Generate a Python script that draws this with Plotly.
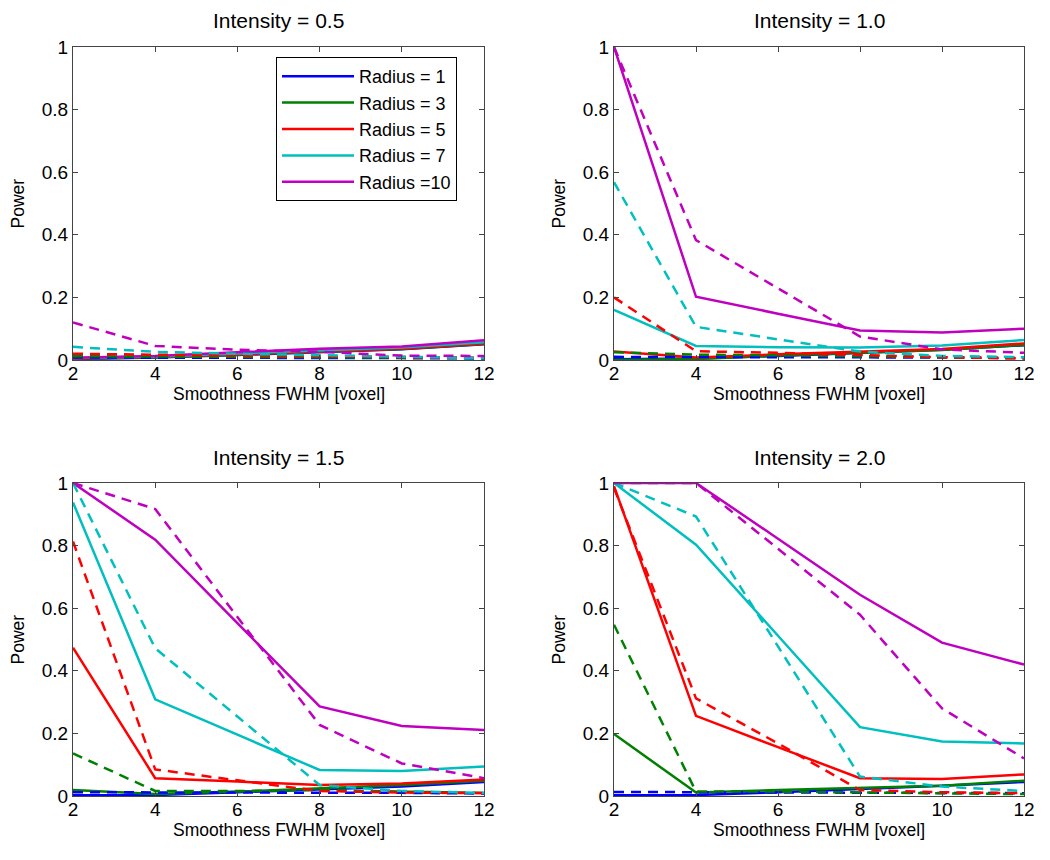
import plotly.graph_objects as go

x_fwhm = [2, 4, 6, 8, 10, 12]
radii_labels = ["Radius = 1", "Radius = 3", "Radius = 5", "Radius = 7", "Radius =10"]
colors = ["#0000ff", "#008000", "#ff0000", "#00bfbf", "#bf00bf"]
titles = ["Intensity = 0.5", "Intensity = 1.0", "Intensity = 1.5", "Intensity = 2.0"]

# Intensity 0.5
i05_solid = [
    [0.003, 0.008, 0.016, 0.026, 0.034, 0.050],
    [0.004, 0.009, 0.017, 0.027, 0.035, 0.051],
    [0.005, 0.010, 0.018, 0.028, 0.036, 0.053],
    [0.006, 0.011, 0.021, 0.031, 0.040, 0.057],
    [0.007, 0.013, 0.025, 0.036, 0.043, 0.063],
]
i05_dashed = [
    [0.008, 0.008, 0.008, 0.007, 0.006, 0.005],
    [0.012, 0.010, 0.010, 0.009, 0.008, 0.006],
    [0.020, 0.016, 0.014, 0.012, 0.009, 0.007],
    [0.042, 0.026, 0.020, 0.016, 0.010, 0.006],
    [0.120, 0.045, 0.033, 0.026, 0.014, 0.013],
]
# Intensity 1.0
i10_solid = [
    [0.002, 0.005, 0.013, 0.023, 0.033, 0.047],
    [0.000, 0.003, 0.014, 0.024, 0.032, 0.048],
    [0.027, 0.008, 0.018, 0.026, 0.035, 0.053],
    [0.160, 0.045, 0.041, 0.040, 0.046, 0.064],
    [1.000, 0.202, 0.148, 0.094, 0.088, 0.100],
]
i10_dashed = [
    [0.010, 0.010, 0.010, 0.009, 0.008, 0.006],
    [0.025, 0.017, 0.015, 0.012, 0.008, 0.006],
    [0.200, 0.028, 0.023, 0.016, 0.009, 0.005],
    [0.568, 0.106, 0.066, 0.027, 0.013, 0.009],
    [1.000, 0.383, 0.229, 0.075, 0.034, 0.023],
]
# Intensity 1.5
i15_solid = [
    [0.002, 0.003, 0.012, 0.020, 0.030, 0.045],
    [0.019, 0.006, 0.014, 0.025, 0.035, 0.049],
    [0.474, 0.057, 0.046, 0.035, 0.040, 0.053],
    [0.938, 0.309, 0.196, 0.083, 0.080, 0.094],
    [1.000, 0.819, 0.552, 0.286, 0.224, 0.211],
]
i15_dashed = [
    [0.012, 0.012, 0.012, 0.012, 0.010, 0.008],
    [0.136, 0.016, 0.016, 0.019, 0.014, 0.010],
    [0.813, 0.085, 0.050, 0.016, 0.011, 0.009],
    [1.000, 0.472, 0.254, 0.035, 0.016, 0.010],
    [1.000, 0.917, 0.572, 0.227, 0.104, 0.057],
]
# Intensity 2.0
i20_solid = [
    [0.002, 0.003, 0.012, 0.022, 0.033, 0.045],
    [0.198, 0.011, 0.019, 0.027, 0.033, 0.049],
    [0.990, 0.256, 0.156, 0.057, 0.054, 0.069],
    [1.000, 0.803, 0.512, 0.220, 0.174, 0.168],
    [1.000, 1.000, 0.822, 0.643, 0.490, 0.420],
]
i20_dashed = [
    [0.013, 0.012, 0.012, 0.011, 0.010, 0.009],
    [0.547, 0.014, 0.014, 0.011, 0.008, 0.006],
    [0.984, 0.312, 0.168, 0.019, 0.012, 0.009],
    [1.000, 0.893, 0.478, 0.062, 0.030, 0.016],
    [1.000, 1.000, 0.790, 0.579, 0.280, 0.120],
]

panels = [(i05_solid, i05_dashed), (i10_solid, i10_dashed),
          (i15_solid, i15_dashed), (i20_solid, i20_dashed)]

W, H = 1050, 860
OFF = 8  # page body margin offset
# panel boxes in page pixels (left, right, top, bottom)
boxes = [(73, 484, 47, 360), (614, 1024, 47, 360),
         (73, 484, 483, 796), (614, 1024, 483, 796)]


def px(v):
    return (v - OFF) / W


def py(v):
    return 1 - (v - OFF) / H


FONT = "Arial, Liberation Sans, Helvetica, sans-serif"
fig = go.Figure()

for p, (solid, dashed) in enumerate(panels):
    xa = "x" if p == 0 else f"x{p+1}"
    ya = "y" if p == 0 else f"y{p+1}"
    for r in range(5):
        fig.add_trace(go.Scatter(
            x=x_fwhm, y=solid[r], mode="lines", xaxis=xa, yaxis=ya,
            line=dict(color=colors[r], width=2.5),
            name=radii_labels[r], showlegend=(p == 0), legendgroup=f"r{r}"))
    for r in range(5):
        fig.add_trace(go.Scatter(
            x=x_fwhm, y=dashed[r], mode="lines", xaxis=xa, yaxis=ya,
            line=dict(color=colors[r], width=2.5, dash="10px,7px"),
            name=radii_labels[r], showlegend=False, legendgroup=f"r{r}"))

annotations = []
for p, (l, r, t, b) in enumerate(boxes):
    sfx = "" if p == 0 else str(p + 1)
    axis_common = dict(showline=True, linecolor="#444444", linewidth=1, mirror="ticks",
                       ticks="inside", ticklen=5, tickcolor="#444444", showgrid=False,
                       zeroline=False, automargin=False,
                       tickfont=dict(family=FONT, size=19, color="black"))
    fig.layout["xaxis" + sfx] = dict(
        domain=[px(l), px(r)], anchor="y" + sfx, range=[2, 12],
        tickvals=[2, 4, 6, 8, 10, 12], ticklabelstandoff=-4, **axis_common)
    fig.layout["yaxis" + sfx] = dict(
        domain=[py(b), py(t)], anchor="x" + sfx, range=[0, 1],
        tickvals=[0, 0.2, 0.4, 0.6, 0.8, 1], ticktext=["0", "0.2", "0.4", "0.6", "0.8", "1"],
        **axis_common)
    cx = (l + r) / 2
    annotations.append(dict(text=titles[p], x=px(cx), y=py(t - 26), xref="paper", yref="paper",
                            showarrow=False, font=dict(family=FONT, size=21, color="black"),
                            xanchor="center", yanchor="middle"))
    annotations.append(dict(text="Smoothness FWHM [voxel]", x=px(cx), y=py(b + 34),
                            xref="paper", yref="paper", showarrow=False,
                            font=dict(family=FONT, size=17.5, color="black"),
                            xanchor="center", yanchor="middle"))
    annotations.append(dict(text="Power", x=px(l - 56), y=py((t + b) / 2),
                            xref="paper", yref="paper", showarrow=False, textangle=-90,
                            font=dict(family=FONT, size=17.5, color="black"),
                            xanchor="center", yanchor="middle"))

fig.update_layout(
    width=W, height=H, margin=dict(l=0, r=0, t=0, b=0, autoexpand=False),
    paper_bgcolor="white", plot_bgcolor="white",
    annotations=annotations,
    showlegend=True,
    legend=dict(x=px(276), y=py(57), xanchor="left", yanchor="top",
                bordercolor="black", borderwidth=1, bgcolor="white",
                font=dict(family=FONT, size=18, color="black"),
                itemwidth=72, tracegroupgap=0),
)

fig.write_html("out.html")
